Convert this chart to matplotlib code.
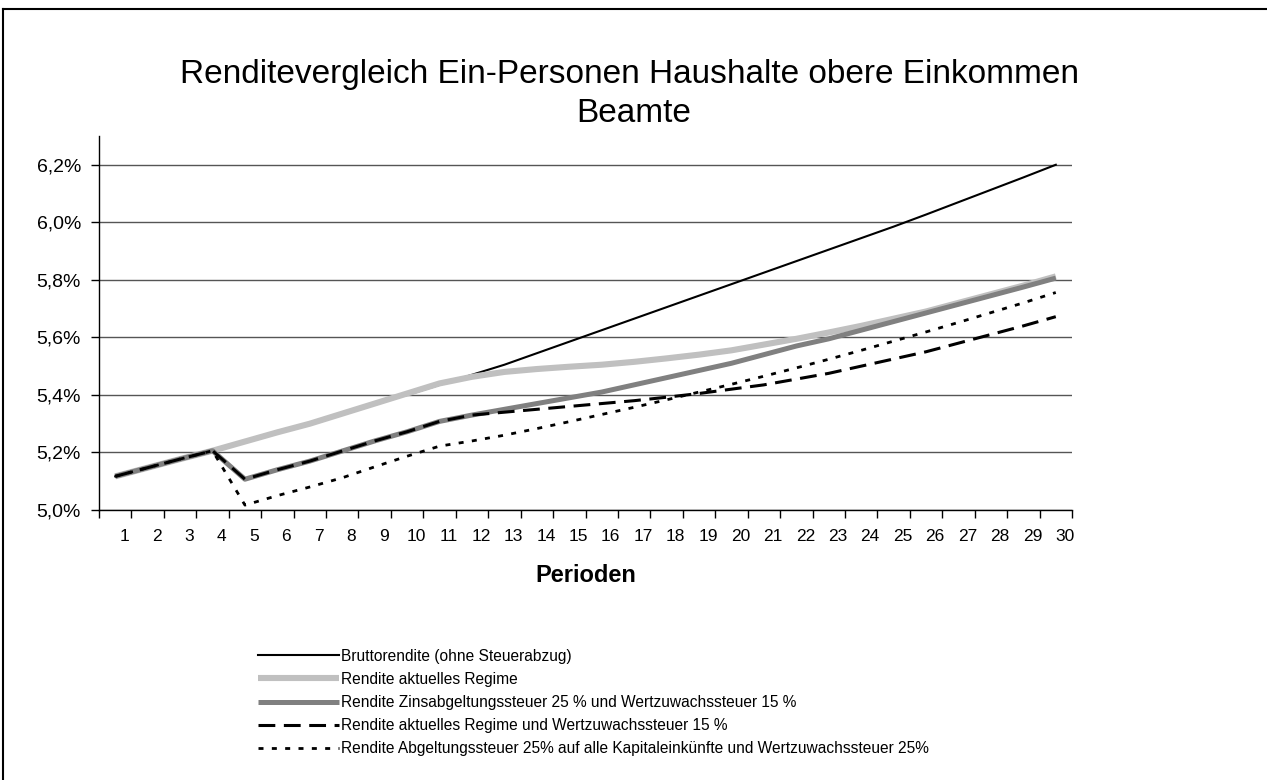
import matplotlib
matplotlib.use("Agg")
import matplotlib.pyplot as plt
import matplotlib.transforms as mtransforms
from matplotlib.lines import Line2D

plt.rcParams['font.family'] = ['Liberation Sans', 'DejaVu Sans']

# Werte in Prozent, Perioden 1..30
perioden = list(range(1, 31))

brutto = [5.117, 5.147, 5.177, 5.206, 5.24, 5.27, 5.30, 5.335, 5.37, 5.40,
          5.435, 5.47, 5.505, 5.545, 5.585, 5.625, 5.665, 5.705, 5.745, 5.785,
          5.825, 5.865, 5.905, 5.945, 5.985, 6.027, 6.07, 6.113, 6.156, 6.20]

aktuell = [5.117, 5.147, 5.177, 5.206, 5.238, 5.27, 5.30, 5.335, 5.37, 5.405,
           5.44, 5.463, 5.48, 5.49, 5.498, 5.505, 5.515, 5.527, 5.54, 5.555,
           5.575, 5.595, 5.617, 5.64, 5.665, 5.69, 5.72, 5.75, 5.78, 5.812]

zins_wzs15 = [5.117, 5.147, 5.177, 5.206, 5.107, 5.14, 5.17, 5.205, 5.24, 5.272,
              5.308, 5.33, 5.35, 5.37, 5.39, 5.41, 5.435, 5.46, 5.485, 5.51,
              5.54, 5.57, 5.595, 5.625, 5.655, 5.685, 5.715, 5.745, 5.775, 5.806]

aktuell_wzs15 = [5.117, 5.147, 5.177, 5.206, 5.107, 5.14, 5.17, 5.205, 5.24, 5.272,
                 5.308, 5.33, 5.34, 5.35, 5.36, 5.37, 5.38, 5.392, 5.405, 5.42,
                 5.435, 5.455, 5.475, 5.50, 5.525, 5.55, 5.58, 5.61, 5.64, 5.672]

abgeltung25 = [5.117, 5.147, 5.177, 5.206, 5.017, 5.05, 5.08, 5.112, 5.15, 5.187,
               5.222, 5.24, 5.26, 5.283, 5.307, 5.332, 5.357, 5.383, 5.41, 5.437,
               5.465, 5.494, 5.524, 5.555, 5.587, 5.619, 5.652, 5.686, 5.72, 5.756]

labels = ["Bruttorendite (ohne Steuerabzug)",
          "Rendite aktuelles Regime",
          "Rendite Zinsabgeltungssteuer 25 % und Wertzuwachssteuer 15 %",
          "Rendite aktuelles Regime und Wertzuwachssteuer 15 %",
          "Rendite Abgeltungssteuer 25% auf alle Kapitaleinkünfte und Wertzuwachssteuer 25%"]

yticks = [5.0, 5.2, 5.4, 5.6, 5.8, 6.0, 6.2]

W, H = 1267, 780
fig = plt.figure(figsize=(W / 100, H / 100), dpi=100)
ax = fig.add_axes([99 / W, 1 - 510 / H, 973 / W, 374 / H])

l1, = ax.plot(perioden, brutto, color='black', lw=1.5, zorder=3)
l2, = ax.plot(perioden, aktuell, color='#c0c0c0', lw=4.4, zorder=4,
              solid_capstyle='butt')
l3, = ax.plot(perioden, zins_wzs15, color='#808080', lw=3.6, zorder=5,
              solid_capstyle='butt')
l4, = ax.plot(perioden, aktuell_wzs15, color='black', lw=2.2, zorder=6,
              linestyle=(0, (5.5, 2.8)))
l5, = ax.plot(perioden, abgeltung25, color='black', lw=2.0, zorder=7,
              linestyle=(0, (1.8, 3.0)))

ax.set_xlim(0.5, 30.5)
ax.set_ylim(5.0, 6.3)

# y axis
ax.set_yticks(yticks)
ax.set_yticklabels([f"{v:.1f}%".replace('.', ',') for v in yticks], fontsize=14)
ax.yaxis.grid(True, color='#555555', lw=1.0)
ax.set_axisbelow(True)

# x axis: ticks between categories, labels at categories
ax.set_xticks([p - 0.5 for p in perioden] + [30.5])
ax.set_xticklabels([])
ax.set_xticks(perioden, minor=True)
ax.set_xticklabels([str(p) for p in perioden], minor=True, fontsize=12.5)
ax.tick_params(axis='x', which='minor', length=0, pad=14)
ax.tick_params(axis='x', which='major', length=6, direction='out', width=1)
ax.tick_params(axis='y', length=6, direction='out', width=1, pad=7)
shift = mtransforms.ScaledTranslation(9 / 100, 0, fig.dpi_scale_trans)
for lab in ax.get_xticklabels(minor=True):
    lab.set_transform(lab.get_transform() + shift)

for s in ['top', 'right']:
    ax.spines[s].set_visible(False)
for s in ['left', 'bottom']:
    ax.spines[s].set_linewidth(1.0)

ax.set_xlabel("Perioden", fontsize=17, fontweight='bold', labelpad=14)

fig.text(630 / W, 1 - 75 / H, "Renditevergleich Ein-Personen Haushalte obere Einkommen",
         ha='center', va='center', fontsize=24)
fig.text(634 / W, 1 - 114 / H, "Beamte", ha='center', va='center', fontsize=24)

leg = fig.legend([l1, l2, l3, l4, l5], labels,
                 loc='upper left', bbox_to_anchor=(250 / W, 1 - 641 / H),
                 frameon=False, fontsize=11.2, handlelength=5.2,
                 handletextpad=0.15, labelspacing=0.52, borderpad=0)

# chart frame (top and left edges)
fig.add_artist(Line2D([3 / W, 3 / W], [0, 1 - 8.5 / H], color='black', lw=1.5,
                      transform=fig.transFigure))
fig.add_artist(Line2D([3 / W, 1], [1 - 8.5 / H, 1 - 8.5 / H], color='black', lw=1.5,
                      transform=fig.transFigure))

fig.savefig("out.png", dpi=100)
